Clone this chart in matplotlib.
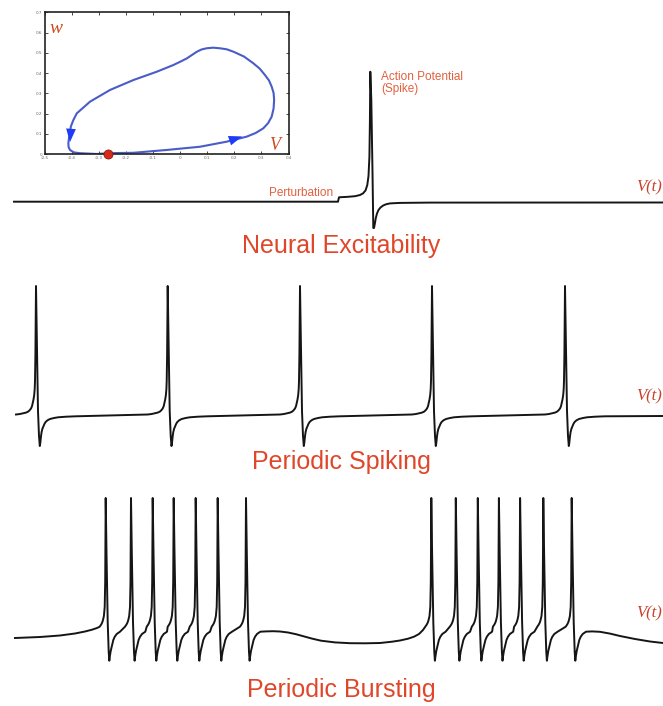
import matplotlib
matplotlib.use("Agg")
import matplotlib.pyplot as plt
import numpy as np

W, H = 663, 706

# ---------------- data ----------------
# Inset: phase-plane limit cycle (V, w)
cycle_V = [-0.265, -0.172, -0.049, 0.074, 0.172, 0.246, 0.279, 0.307, 0.325, 0.338,
           0.345, 0.347, 0.345, 0.338, 0.328, 0.313, 0.294, 0.270, 0.236, 0.197,
           0.172, 0.147, 0.122, 0.098, 0.079, 0.062, 0.044, 0.025, 0.000, -0.025,
           -0.086, -0.172, -0.258, -0.332, -0.381, -0.394, -0.403, -0.406, -0.410,
           -0.412, -0.411, -0.406, -0.392, -0.369, -0.307, -0.265]
cycle_w = [0.004, 0.006, 0.020, 0.036, 0.061, 0.086, 0.104, 0.127, 0.153, 0.185,
           0.225, 0.267, 0.302, 0.333, 0.364, 0.391, 0.422, 0.449, 0.482, 0.506,
           0.518, 0.523, 0.526, 0.523, 0.517, 0.506, 0.490, 0.473, 0.456, 0.440,
           0.407, 0.366, 0.317, 0.259, 0.201, 0.167, 0.135, 0.102, 0.077,
           0.053, 0.034, 0.020, 0.008, 0.004, 0.000, 0.004]
rest_V, rest_w = -0.265, 0.002
arrow1_tail, arrow1_tip = (0.162, 0.057), (0.229, 0.087)
arrow2_tail, arrow2_tip = (-0.402, 0.129), (-0.406, 0.059)
inset_xticks = [-0.5, -0.4, -0.3, -0.2, -0.1, 0, 0.1, 0.2, 0.3, 0.4]
inset_yticks = [0, 0.1, 0.2, 0.3, 0.4, 0.5, 0.6, 0.7]

# Panel 1: single action potential (time, voltage relative to rest)
exc_t = [14, 338, 339, 348, 355, 360, 363, 365.5, 367.3, 368.5, 369.4, 369.9, 370.3,
         371.3, 372.5, 373.3, 374.0, 374.8, 375.8, 377, 378.5, 380.5, 383, 386, 390,
         400, 430, 663]
exc_v = [0.3, 0.3, 4.7, 5.2, 5.8, 7, 8.6, 11.5, 17, 26, 45, 80, 130.3,
         102, 30, -26, -26, -22, -16, -11.5, -8, -5.5, -3.6, -2.3, -1.4,
         -0.9, -0.6, -0.5]

# Panel 2: periodic spiking
spike_times = [36, 167.7, 300, 432, 565]
spk_rel_t = [-20, -16, -13, -10, -8, -6.5, -5, -4, -3.3, -2.5, -1.8, -1.3, -1.0,
             -0.6, -0.3, 0, 0.8, 2.0, 3.0, 3.8, 4.3, 4.9, 5.6, 6.4, 7.3, 8.4,
             9.6, 11.5, 14, 18, 22, 30, 40]
spk_rel_v = [1.5, 2, 2.7, 3.4, 4.3, 5.6, 7.5, 9.8, 13, 16.5, 21, 27, 35,
             60, 95, 130, 80, 5, -20, -30, -27, -21, -16, -12.8, -10.7, -8,
             -6, -4.3, -3, -2, -1.3, -0.7, -0.3]
spk_end_t, spk_end_v = [663], [0]

# Panel 3: periodic bursting
burst_times = [105.7, 131, 152.7, 173.7, 195.7, 217.7, 246,
               431.3, 455.8, 477.8, 498.9, 520.1, 543.3, 571.7]
bst_rel_t = [-6, -4.5, -3.5, -2.7, -1.8, -1.0, -0.5, 0, 0.8, 2.0, 3.0, 3.6, 4.2,
             5.0, 6.0, 6.8, 7.6, 9, 11, 14.3]
bst_rel_v = [15.3, 17.5, 19.5, 22, 26, 35, 60, 144, 90, 20, -10, -18.7, -14,
             -9, -4.7, -1, 2, 5.2, 8, 10.3]
slow_t = [15, 40, 60, 75, 85, 92, 97,
          266, 273, 280, 288, 296, 304, 312, 321, 335, 350, 365, 380, 392, 400,
          408, 414, 419, 423,
          592, 600, 610, 620, 635, 650, 663]
slow_v = [4, 5, 6.5, 8.5, 10.5, 12.3, 14,
          10.6, 10.8, 10.5, 9.5, 7.8, 5.6, 3.4, 1.3, -0.4, -1.2, -1.3, -1, 0.3, 1.5,
          3.3, 5.3, 8, 12,
          10.6, 10.2, 8.4, 6, 3, 0.5, -1]

# ---------------- helpers ----------------
RED = "#e0472a"
TXT_RED = "#e2603f"
VT_RED = "#c8402a"
TRACE = "#151515"


def fx(px):
    return px / W


def fy(py):
    return 1 - py / H


def build(times, rel_t, rel_v, extra_t, extra_v):
    t = list(extra_t)
    v = list(extra_v)
    for s in times:
        t += [s + r for r in rel_t]
        v += list(rel_v)
    order = np.argsort(t)
    return np.asarray(t)[order], np.asarray(v)[order]


def panel(fig, top, bot, base):
    ax = fig.add_axes([0, fy(bot), 1, (bot - top) / H])
    ax.set_xlim(0, W)
    ax.set_ylim(base - bot, base - top)
    ax.axis("off")
    return ax


fig = plt.figure(figsize=(W / 100, H / 100), dpi=100)
fig.patch.set_facecolor("white")

# Panel 1
ax1 = panel(fig, 55, 235, 202)
ax1.plot(exc_t, exc_v, color=TRACE, lw=1.4, solid_joinstyle="round")

# Panel 2
ax2 = panel(fig, 270, 455, 416)
t2, v2 = build(spike_times, spk_rel_t, spk_rel_v, spk_end_t, spk_end_v)
ax2.plot(t2, v2, color=TRACE, lw=1.4, solid_joinstyle="round")

# Panel 3
ax3 = panel(fig, 485, 670, 642)
t3, v3 = build(burst_times, bst_rel_t, bst_rel_v, slow_t, slow_v)
ax3.plot(t3, v3, color=TRACE, lw=1.4, solid_joinstyle="round")

# Texts
sans = "Liberation Sans"
serif = "Liberation Serif"
fig.text(fx(341), fy(253), "Neural Excitability", ha="center", va="baseline",
         fontsize=18, family=sans, color=RED)
fig.text(fx(341), fy(469), "Periodic Spiking", ha="center", va="baseline",
         fontsize=18, family=sans, color=RED)
fig.text(fx(341), fy(697), "Periodic Bursting", ha="center", va="baseline",
         fontsize=18, family=sans, color=RED)
for yc in (187, 396, 613):
    fig.text(fx(662), fy(yc), "V(t)", ha="right", va="center", fontsize=12,
             family=serif, style="italic", color=VT_RED)
fig.text(fx(333), fy(193), "Perturbation", ha="right", va="center",
         fontsize=8.5, family=sans, color=TXT_RED)
fig.text(fx(381), fy(71), "Action Potential\n(Spike)", ha="left", va="top",
         fontsize=8.5, family=sans, color=TXT_RED, linespacing=1.0)

# Inset phase plane
axi = fig.add_axes([fx(44.5), fy(154), 244 / W, 141.5 / H])
axi.set_facecolor("white")
axi.plot(cycle_V, cycle_w, color="#4a5cc8", lw=1.5, solid_joinstyle="round")
for tail, tip in ((arrow1_tail, arrow1_tip), (arrow2_tail, arrow2_tip)):
    axi.annotate("", xy=tip, xytext=tail,
                 arrowprops=dict(arrowstyle="-|>,head_length=0.6,head_width=0.22",
                                 mutation_scale=16, color="#1e3cf5", lw=0,
                                 shrinkA=0, shrinkB=0))
axi.plot([rest_V], [rest_w], "o", ms=6.5, color="#d82a1a", mec="#8a1a10",
         mew=0.6, clip_on=False, zorder=5)
axi.set_xlim(-0.5, 0.4)
axi.set_ylim(0, 0.7)
axi.set_xticks(inset_xticks)
axi.set_yticks(inset_yticks)
axi.set_xticklabels([f"{v:g}" for v in inset_xticks])
axi.set_yticklabels([f"{v:g}" for v in inset_yticks])
axi.tick_params(direction="in", length=2, width=0.5, labelsize=3, pad=1.5,
                top=True, right=True, labelcolor="#666666")
for s in axi.spines.values():
    s.set_linewidth(1.2)
    s.set_color("#222222")
axi.text(-0.48, 0.62, "w", fontsize=14, family=serif, style="italic",
         color="#d04a20", ha="left", va="center")
axi.text(0.33, 0.04, "V", fontsize=13, family=serif, style="italic",
         color="#d04a20", ha="left", va="center")

fig.savefig("out.png", dpi=100, facecolor="white")
